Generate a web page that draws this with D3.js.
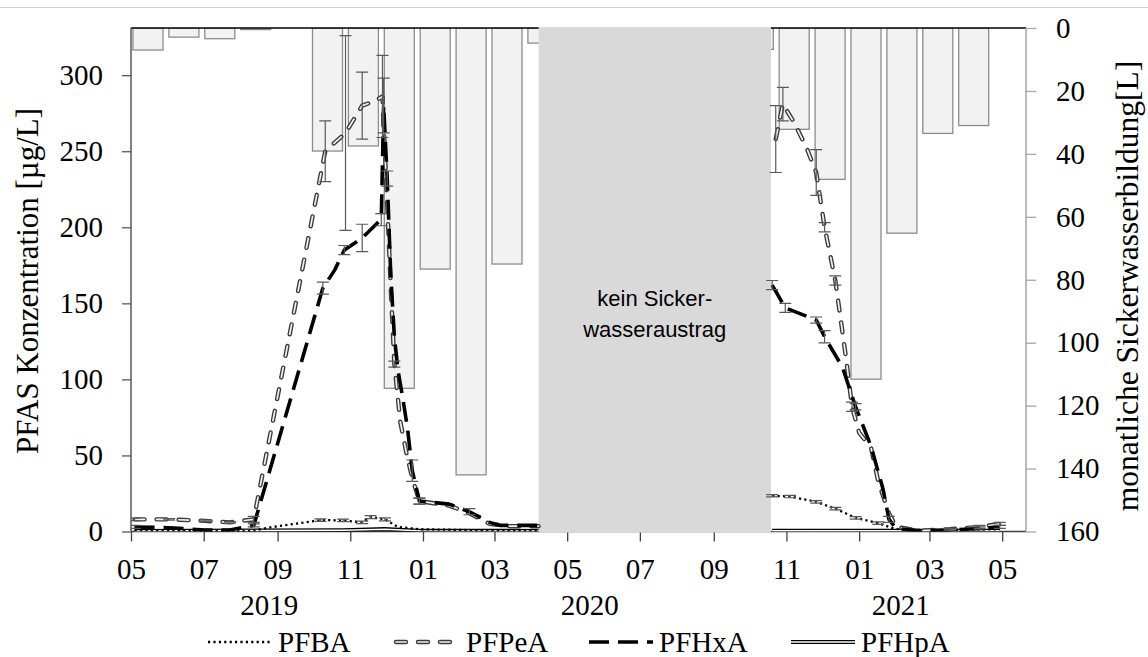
<!DOCTYPE html>
<html>
<head>
<meta charset="utf-8">
<script src="https://cdn.jsdelivr.net/npm/d3@7"></script>
<style>
  html, body { margin: 0; padding: 0; background: #fff; }
  svg { display: block; }
</style>
</head>
<body>
<svg id="chart" width="1148" height="657"></svg>
<script>
// Monthly leachate formation [L], May 2019 – April 2021 (bars, right axis)
const barMonths = ["2019-05","2019-06","2019-07","2019-08","2019-09","2019-10","2019-11","2019-12",
                   "2020-01","2020-02","2020-03","2020-04","2020-05","2020-06","2020-07","2020-08",
                   "2020-09","2020-10","2020-11","2020-12","2021-01","2021-02","2021-03","2021-04"];
const barValues = [7.0, 2.9, 3.4, 0.5, 0, 39.1, 37.5, 114.5,
                   76.6, 142, 75.0, 4.8, 0, 0, 0, 0,
                   0, 6.8, 32.2, 48.1, 111.6, 65.2, 33.5, 31.0];

// PFAS concentrations [µg/L]: [date, value, error]; null separates the two seasons
const PFBA = [
  ["2019-05-04", 1.0, 0], ["2019-06-19", 0.5, 0], ["2019-07-23", 0.2, 0], ["2019-08-12", 0.5, 0],
  ["2019-08-24", 2.5, 0], ["2019-10-07", 7.5, 0.8], ["2019-10-26", 7.3, 0.8], ["2019-11-11", 6.0, 0.8],
  ["2019-11-18", 9.5, 1], ["2019-11-30", 8.0, 1], ["2019-12-11", 3.0, 0], ["2019-12-29", 1.5, 0],
  ["2020-02-18", 0.8, 0], ["2020-04-07", 0.5, 0],
  null,
  ["2020-10-20", 23.5, 0.8], ["2020-11-04", 23.0, 0.8], ["2020-11-26", 19.5, 0.8], ["2020-12-12", 15.0, 0.8],
  ["2020-12-29", 9.0, 0.8], ["2021-01-17", 5.5, 0.8], ["2021-01-30", 2.0, 0], ["2021-02-10", 1.0, 0],
  ["2021-03-18", 1.0, 0], ["2021-04-29", 1.5, 0]
];
const PFPeA = [
  ["2019-05-04", 8, 0.8], ["2019-06-02", 8, 0.5], ["2019-07-02", 7, 0.5], ["2019-07-23", 6, 0.5],
  ["2019-08-12", 8, 2], ["2019-10-11", 250, 20], ["2019-10-28", 262, 64], ["2019-11-11", 280, 22],
  ["2019-11-22", 283, 0], ["2019-11-28", 286, 27], ["2019-12-02", 215, 0], ["2019-12-05", 160, 0],
  ["2019-12-08", 110, 2], ["2019-12-13", 72, 0], ["2019-12-18", 52, 0], ["2019-12-23", 35, 0],
  ["2019-12-29", 20, 2], ["2020-01-23", 17, 0], ["2020-02-09", 12, 0], ["2020-02-26", 5, 0],
  ["2020-03-14", 3.5, 0], ["2020-04-07", 3.5, 0],
  null,
  ["2020-10-23", 258, 22], ["2020-10-29", 281, 11], ["2020-11-08", 268, 0], ["2020-11-18", 252, 0],
  ["2020-11-26", 236, 15], ["2020-12-03", 200, 3], ["2020-12-12", 165, 3], ["2020-12-21", 114, 0],
  ["2020-12-26", 82, 3], ["2021-01-01", 65, 0], ["2021-01-11", 55, 0], ["2021-01-17", 33, 0],
  ["2021-01-26", 12, 0], ["2021-02-01", 3, 0], ["2021-02-21", 0.5, 0], ["2021-03-18", 1.5, 0.5],
  ["2021-04-12", 3, 1], ["2021-04-29", 5, 1]
];
const PFHxA = [
  ["2019-05-04", 3, 1], ["2019-06-02", 2.5, 0], ["2019-07-02", 1, 0], ["2019-07-23", 1, 0],
  ["2019-08-12", 4, 1], ["2019-10-09", 160, 4], ["2019-10-19", 172, 0], ["2019-10-27", 185, 3],
  ["2019-11-11", 193, 9], ["2019-11-24", 203, 0], ["2019-11-27", 205, 4], ["2019-11-29", 280, 18],
  ["2019-12-02", 232, 5], ["2019-12-05", 168, 0], ["2019-12-08", 128, 0], ["2019-12-11", 106, 0],
  ["2019-12-15", 88, 0], ["2019-12-19", 68, 0], ["2019-12-23", 40, 7], ["2019-12-29", 20, 2],
  ["2020-01-23", 18, 0], ["2020-02-09", 13, 2], ["2020-02-26", 6, 0], ["2020-03-06", 4, 0],
  ["2020-04-07", 4, 0],
  null,
  ["2020-10-20", 162, 3], ["2020-10-31", 147, 3], ["2020-11-26", 139, 2], ["2020-12-03", 128, 4],
  ["2020-12-18", 108, 0], ["2020-12-29", 82, 2], ["2021-01-11", 56, 0], ["2021-01-21", 28, 0],
  ["2021-01-26", 8, 2], ["2021-02-01", 2, 0], ["2021-02-21", 0.5, 0], ["2021-03-18", 1, 0.5],
  ["2021-04-12", 2, 1], ["2021-04-29", 3, 1]
];
const PFHpA = [
  ["2019-05-04", 0.3, 0], ["2019-10-26", 0.8, 0], ["2019-11-30", 1.5, 0], ["2019-12-29", 0.5, 0],
  ["2020-04-07", 0.3, 0],
  null,
  ["2020-10-20", 0.4, 0], ["2021-04-29", 0.5, 0]
];

const leftTicks = [0, 50, 100, 150, 200, 250, 300];
const rightTicks = [0, 20, 40, 60, 80, 100, 120, 140, 160];
const yearLabels = [["2019", "2019-08-25"], ["2020", "2020-05-20"], ["2021", "2021-02-05"]];
const noFlowPeriod = ["2020-04-07", "2020-10-19"];
const noFlowText = ["kein Sicker-", "wasseraustrag"];
const legendNames = ["PFBA", "PFPeA", "PFHxA", "PFHpA"];

const parse = d3.utcParse("%Y-%m-%d");
const serif = "'Liberation Serif', 'Times New Roman', serif";

const svg = d3.select("#chart");
const L = 131, R = 1026, T = 28, B = 531.5;

const x = d3.scaleUtc().domain([parse("2019-05-01"), parse("2021-05-21")]).range([L, R]);
const yL = d3.scaleLinear().domain([0, 331]).range([B, T]);
const yR = d3.scaleLinear().domain([0, 160]).range([T, B]);
const xb = d3.scaleBand().domain(barMonths).range([133, 988.7]).paddingInner(0.1643).paddingOuter(0);

// thin frame line along the top edge of the picture
svg.append("line").attr("x1", 0).attr("x2", 1148).attr("y1", 7.5).attr("y2", 7.5)
  .attr("stroke", "#d0d0d0").attr("stroke-width", 1);

svg.append("defs").append("clipPath").attr("id", "plot")
  .append("rect").attr("x", L).attr("y", T).attr("width", R - L).attr("height", B - T);

// leachate bars hanging from the top
svg.append("g").attr("clip-path", "url(#plot)")
  .selectAll("rect").data(barMonths.map((m, i) => [m, barValues[i]]).filter(d => d[1] > 0))
  .join("rect")
  .attr("x", d => xb(d[0])).attr("y", yR(0))
  .attr("width", xb.bandwidth()).attr("height", d => yR(d[1]) - yR(0))
  .attr("fill", "#f2f2f2").attr("stroke", "#8c8c8c").attr("stroke-width", 1.3);

// top frame
svg.append("line").attr("x1", L).attr("x2", R).attr("y1", T).attr("y2", T)
  .attr("stroke", "#000").attr("stroke-width", 1.5);

// bottom axis
const xAxis = d3.axisBottom(x).ticks(d3.utcMonth.every(2)).tickFormat(d3.utcFormat("%m"))
  .tickSize(10).tickPadding(17);
const gx = svg.append("g").attr("transform", `translate(0,${B})`).call(xAxis);
gx.select(".domain").attr("stroke", "#404040").attr("stroke-width", 1.5).attr("d", `M${L},0H${R}`);
gx.selectAll(".tick line").attr("stroke", "#404040").attr("stroke-width", 1.3);
gx.selectAll(".tick text").attr("font-family", serif).attr("font-size", 29).attr("fill", "#000")
  .attr("dy", "0.71em");

// period without leachate discharge
const gxa = x(parse(noFlowPeriod[0])), gxb = x(parse(noFlowPeriod[1]));
svg.append("rect").attr("x", gxa).attr("y", T - 1).attr("width", gxb - gxa).attr("height", B - T + 2)
  .attr("fill", "#d9d9d9");
svg.append("text").attr("x", (gxa + gxb) / 2).attr("y", 306)
  .attr("font-family", "'Liberation Sans', Arial, sans-serif").attr("font-size", 22)
  .attr("text-anchor", "middle").attr("fill", "#000")
  .selectAll("tspan").data(noFlowText).join("tspan")
  .attr("x", (gxa + gxb) / 2).attr("dy", (d, i) => i ? 31 : 0).text(d => d);

// concentration series
const plot = svg.append("g").attr("clip-path", "url(#plot)");
const line = d3.line().defined(d => d !== null)
  .x(d => x(parse(d[0]))).y(d => yL(d[1]));

function drawErrors(data) {
  const pts = data.filter(d => d && d[2] > 0);
  const g = plot.append("g").attr("stroke", "#595959").attr("stroke-width", 1.2).attr("fill", "none");
  pts.forEach(d => {
    const cx = x(parse(d[0])), y0 = yL(d[1] - d[2]), y1 = yL(d[1] + d[2]);
    g.append("path").attr("d", `M${cx},${y0}V${y1}M${cx - 6},${y0}H${cx + 6}M${cx - 6},${y1}H${cx + 6}`);
  });
}

const styles = {
  PFHpA: [{ stroke: "#000", w: 4.2 }, { stroke: "#fff", w: 1.6 }],
  PFBA: [{ stroke: "#000", w: 2.3, dash: "2.2,3.2" }],
  PFPeA: [{ stroke: "#3a3a3a", w: 4.4, dash: "10,12", cap: "round" },
          { stroke: "#f2f2f2", w: 1.7, dash: "10,12", cap: "round" }],
  PFHxA: [{ stroke: "#000", w: 3.6, dash: "20,9" }]
};

function strokeWith(sel, st) {
  sel.attr("fill", "none").attr("stroke", st.stroke).attr("stroke-width", st.w)
    .attr("stroke-dasharray", st.dash || null).attr("stroke-linecap", st.cap || "butt")
    .attr("stroke-linejoin", "round");
}

[["PFHpA", PFHpA], ["PFBA", PFBA], ["PFPeA", PFPeA], ["PFHxA", PFHxA]].forEach(([name, data]) => {
  styles[name].forEach(st => strokeWith(plot.append("path").attr("d", line(data)), st));
});
[PFBA, PFPeA, PFHxA].forEach(drawErrors);

// left axis
const gl = svg.append("g").attr("transform", `translate(${L},0)`)
  .call(d3.axisLeft(yL).tickValues(leftTicks).tickSize(9).tickPadding(19));
gl.select(".domain").attr("stroke", "#595959").attr("stroke-width", 1.5).attr("d", `M0,${B}V${T}`);
gl.selectAll(".tick line").attr("stroke", "#595959").attr("stroke-width", 1.3);
gl.selectAll(".tick text").attr("font-family", serif).attr("font-size", 29).attr("fill", "#000");

// right axis
const gr = svg.append("g").attr("transform", `translate(${R},0)`)
  .call(d3.axisRight(yR).tickValues(rightTicks).tickSize(10).tickPadding(20));
gr.select(".domain").attr("stroke", "#a6a6a6").attr("stroke-width", 1.5).attr("d", `M0,${T}V${B}`);
gr.selectAll(".tick line").attr("stroke", "#a6a6a6").attr("stroke-width", 1.3);
gr.selectAll(".tick text").attr("font-family", serif).attr("font-size", 29).attr("fill", "#000");

// axis titles
svg.append("text").attr("transform", "translate(38,281) rotate(-90)")
  .attr("text-anchor", "middle").attr("font-family", serif).attr("font-size", 31)
  .text("PFAS Konzentration [µg/L]");
svg.append("text").attr("transform", "translate(1138,286) rotate(-90)")
  .attr("text-anchor", "middle").attr("font-family", serif).attr("font-size", 31.5)
  .text("monatliche Sickerwasserbildung[L]");

// year labels
svg.append("g").selectAll("text").data(yearLabels).join("text")
  .attr("x", d => x(parse(d[1]))).attr("y", 615).attr("text-anchor", "middle")
  .attr("font-family", serif).attr("font-size", 29).text(d => d[0]);

// legend
const legendX = [206, 394, 587, 789];
const lg = svg.append("g");
legendNames.forEach((name, i) => {
  const g = lg.append("g").attr("transform", `translate(${legendX[i]},642)`);
  styles[name].forEach(st => strokeWith(g.append("path").attr("d", "M2,0H66"), st));
  g.append("text").attr("x", 72).attr("y", 10).attr("font-family", serif).attr("font-size", 29).text(name);
});
</script>
</body>
</html>
